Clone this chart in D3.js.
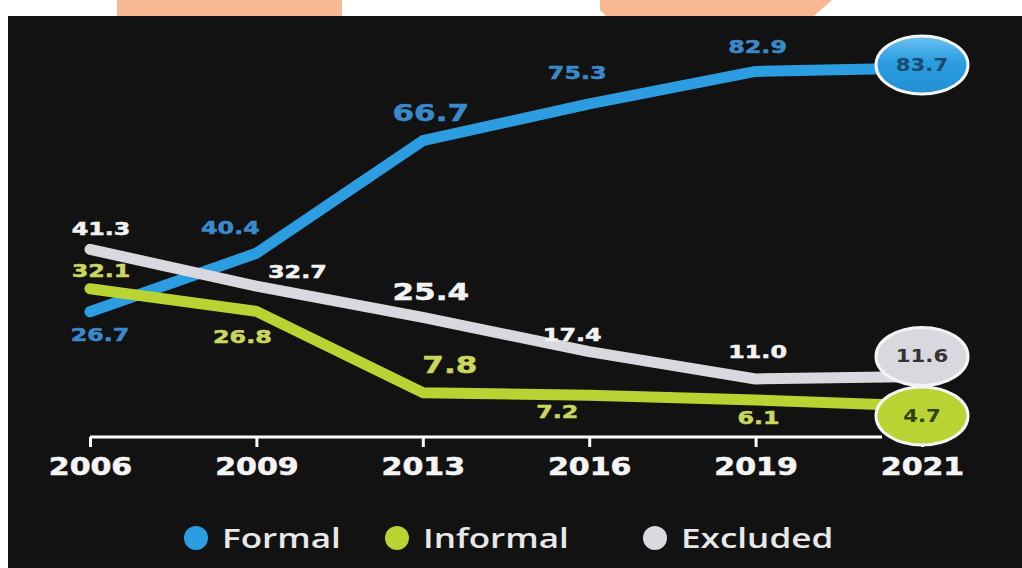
<!DOCTYPE html>
<head>
    <meta charset="utf-8">
    <script src="https://d3js.org/d3.v7.min.js"></script>
    <style>
        body { margin: 0; background: #fff; }
        svg { display: block; }
    </style>
</head>
<body>
<script>
    // data
    const years = ["2006", "2009", "2013", "2016", "2019", "2021"];
    const formal = [26.7, 40.4, 66.7, 75.3, 82.9, 83.7];
    const informal = [32.1, 26.8, 7.8, 7.2, 6.1, 4.7];
    const excluded = [41.3, 32.7, 25.4, 17.4, 11.0, 11.6];
    const seriesNames = ["Formal", "Informal", "Excluded"];

    // label offsets from each point (layout only)
    const formalOff = [[10, 23], [-26, -25], [8, -28], [-12, -31], [2, -24]];
    const informalOff = [[11, -17], [-14, 26], [27, -28], [-32, 17], [3, 18]];
    const excludedOff = [[11, -20], [41, -14], [8, -25], [-17, -16], [2, -27]];

    const width = 1022, height = 568;

    const svg = d3.select("body").append("svg")
        .attr("width", width)
        .attr("height", height);

    const defs = svg.append("defs");
    const grad = defs.append("linearGradient").attr("id", "blueGrad")
        .attr("x1", 0).attr("y1", 0).attr("x2", 0).attr("y2", 1);
    grad.append("stop").attr("offset", "0%").attr("stop-color", "#6cc2f0");
    grad.append("stop").attr("offset", "45%").attr("stop-color", "#2a9de0");
    grad.append("stop").attr("offset", "100%").attr("stop-color", "#2290d2");

    // top strip: white with peach shapes
    svg.append("rect").attr("width", width).attr("height", 16).attr("fill", "#fff");
    svg.append("path").attr("d", "M117,0L342,0L342,16L117,16Z").attr("fill", "#f8b992");
    svg.append("path").attr("d", "M600,0L832,0L814,16L606,16L600,10Z").attr("fill", "#f8b992");

    // dark panel
    svg.append("rect").attr("x", 8).attr("y", 16).attr("width", width - 8).attr("height", height - 16)
        .attr("fill", "#121212");

    const x = d3.scalePoint().domain(years).range([90, 922]);
    const y = d3.scaleLinear().domain([0, 83.7]).range([426, 68]);

    const colors = {
        Formal: "#2b9de0",
        Informal: "#b7d432",
        Excluded: "#d9d8de"
    };
    const textColors = {
        Formal: "#3a8acb",
        Informal: "#c9d85c",
        Excluded: "#f2f2f2"
    };

    // axis
    const axis = d3.axisBottom(x).tickSize(10).tickSizeOuter(0).tickPadding(10);
    const ax = svg.append("g").attr("transform", "translate(0,437)").call(axis);
    ax.select(".domain").attr("stroke", "#fff").attr("stroke-width", 3)
        .attr("d", "M" + x("2006") + ",0H" + (x("2021") - 40));
    ax.selectAll(".tick line").attr("stroke", "#fff").attr("stroke-width", 3)
        .attr("y1", 0);
    ax.selectAll(".tick text")
        .attr("fill", "#f4f4f4")
        .attr("stroke", "#f4f4f4")
        .attr("stroke-width", 0.6)
        .attr("font-family", "DejaVu Sans")
        .attr("font-weight", "bold")
        .attr("font-size", 25)
        .attr("transform", "scale(1.2,1)");

    const line = d3.line()
        .x((d, i) => x(years[i]))
        .y(d => y(d));

    const series = [
        {name: "Formal", values: formal, off: formalOff, badge: -3},
        {name: "Informal", values: informal, off: informalOff, badge: 10},
        {name: "Excluded", values: excluded, off: excludedOff, badge: -20}
    ];

    series.forEach(s => {
        svg.append("path")
            .datum(s.values)
            .attr("d", line)
            .attr("fill", "none")
            .attr("stroke", colors[s.name])
            .attr("stroke-width", 11)
            .attr("stroke-linecap", "round")
            .attr("stroke-linejoin", "round");
    });

    // point labels
    series.forEach(s => {
        s.values.slice(0, 5).forEach((v, i) => {
            const big = years[i] === "2013";
            svg.append("text")
                .attr("transform", "translate(" + (x(years[i]) + s.off[i][0]) + "," +
                    (y(v) + s.off[i][1]) + ") scale(" + (big ? 1.35 : 1.4) + ",1)")
                .attr("text-anchor", "middle")
                .attr("dominant-baseline", "central")
                .attr("font-family", "DejaVu Sans")
                .attr("font-weight", "bold")
                .attr("font-size", big ? 23 : 17)
                .attr("fill", textColors[s.name])
                .attr("stroke", textColors[s.name])
                .attr("stroke-width", 0.5)
                .text(v.toFixed(1));
        });
    });

    // end badges
    const badgeFill = {Formal: "url(#blueGrad)", Informal: "#b7d432", Excluded: "#d9d8de"};
    const badgeText = {Formal: "#1c4a6e", Informal: "#34400e", Excluded: "#333"};
    series.forEach(s => {
        const v = s.values[5];
        const cx = x("2021"), cy = y(v) + s.badge;
        svg.append("ellipse")
            .attr("cx", cx).attr("cy", cy)
            .attr("rx", 46).attr("ry", 29)
            .attr("fill", badgeFill[s.name])
            .attr("stroke", "#f4f4f4")
            .attr("stroke-width", 3);
        svg.append("text")
            .attr("transform", "translate(" + cx + "," + cy + ") scale(1.25,1)")
            .attr("text-anchor", "middle")
            .attr("dominant-baseline", "central")
            .attr("font-family", "DejaVu Sans")
            .attr("font-weight", "bold")
            .attr("font-size", 17)
            .attr("fill", badgeText[s.name])
            .text(v.toFixed(1));
    });

    // legend
    const legendX = [196, 397, 655];
    const legend = svg.append("g");
    seriesNames.forEach((n, i) => {
        legend.append("circle")
            .attr("cx", legendX[i]).attr("cy", 538).attr("r", 12)
            .attr("fill", colors[n]);
        legend.append("text")
            .attr("transform", "translate(" + (legendX[i] + 26) + ",538) scale(1.3,1)")
            .attr("dominant-baseline", "central")
            .attr("font-family", "Open Sans")
            .attr("font-weight", 600)
            .attr("font-size", 27)
            .attr("fill", "#e8e8e8")
            .text(n);
    });
</script>
</body>
